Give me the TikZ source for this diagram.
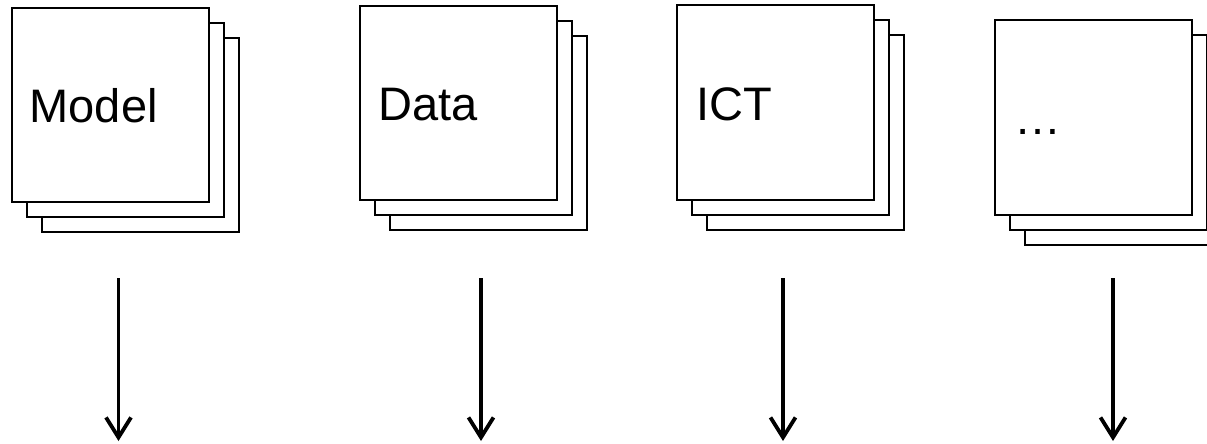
\documentclass[tikz,border=0pt]{standalone}
\usepackage{fontspec}
\setmainfont{Liberation Sans}
\usetikzlibrary{arrows.meta}
\tikzset{
  page/.style={draw=black, fill=white, line width=2pt, inner sep=0pt,
    minimum width=197pt, minimum height=194pt},
  caption/.style={anchor=base west, inner sep=0pt,
    font=\fontsize{47}{56}\selectfont},
  flow/.style={line width=3.8pt,
    -{Straight Barb[length=20pt, width=25pt, line width=3.8pt]}}
}
\begin{document}
\begin{tikzpicture}[x=1pt, y=-1pt]
  \clip (0,0) rectangle (1207,444);
  % stack: Model
  \node[page] (m3) at (140.5,135) {};
  \node[page] (m2) at (125.5,120) {};
  \node[page] (m1) at (110.5,105) {};
  \node[caption] (mt) at (29.5,122) {Model};
  % stack: Data
  \node[page] (d3) at (488.5,133) {};
  \node[page] (d2) at (473.5,118) {};
  \node[page] (d1) at (458.5,103) {};
  \node[caption] (dt) at (378,120) {Data};
  % stack: ICT
  \node[page] (i3) at (805.5,132.5) {};
  \node[page] (i2) at (790.5,117.5) {};
  \node[page] (i1) at (775.5,102.5) {};
  \node[caption] (it) at (696,120) {ICT};
  % stack: further items
  \node[page] (e3) at (1123,147.5) {};
  \node[page] (e2) at (1108,132.5) {};
  \node[page] (e1) at (1093,117.5) {};
  \node[caption] (et) at (1014,134.5) {…};
  % downward arrows
  \coordinate (ma) at (118.5,278);  \coordinate (mb) at (118.5,441);
  \coordinate (da) at (481,278);    \coordinate (db) at (481,441);
  \coordinate (ia) at (783,278);    \coordinate (ib) at (783,441);
  \coordinate (ea) at (1113,278);   \coordinate (eb) at (1113,441);
  \draw[flow] (ma) -- (mb);
  \draw[flow] (da) -- (db);
  \draw[flow] (ia) -- (ib);
  \draw[flow] (ea) -- (eb);
\end{tikzpicture}
\end{document}
